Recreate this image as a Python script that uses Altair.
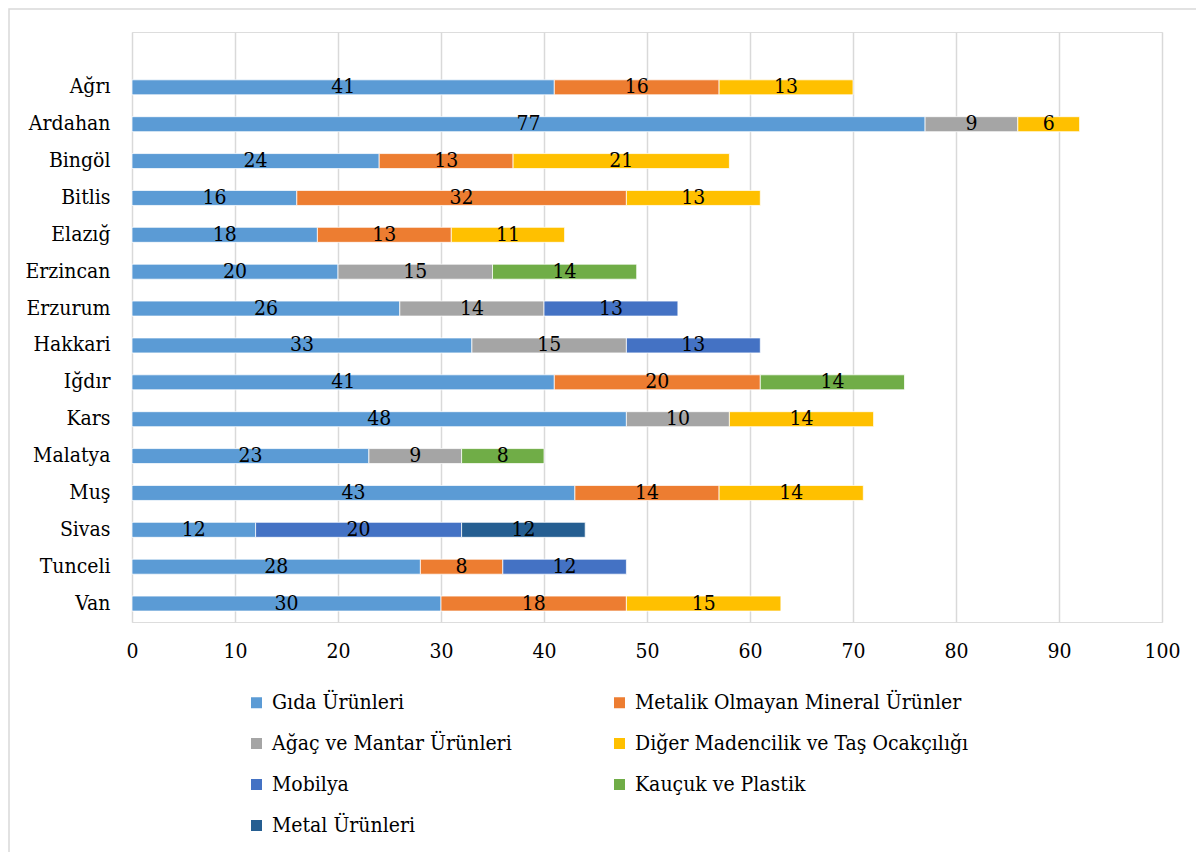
import altair as alt
import pandas as pd

provinces = ["Ağrı", "Ardahan", "Bingöl", "Bitlis", "Elazığ", "Erzincan", "Erzurum",
             "Hakkari", "Iğdır", "Kars", "Malatya", "Muş", "Sivas", "Tunceli", "Van"]

series = ["Gıda Ürünleri", "Metalik Olmayan Mineral Ürünler", "Ağaç ve Mantar Ürünleri",
          "Diğer Madencilik ve Taş Ocakçılığı", "Mobilya", "Kauçuk ve Plastik", "Metal Ürünleri"]

colors = ["#5B9BD5", "#ED7D31", "#A5A5A5", "#FFC000", "#4472C4", "#70AD47", "#255E91"]

gida     = [41, 77, 24, 16, 18, 20, 26, 33, 41, 48, 23, 43, 12, 28, 30]
metalik  = [16, 0, 13, 32, 13, 0, 0, 0, 20, 0, 0, 14, 0, 8, 18]
agac     = [0, 9, 0, 0, 0, 15, 14, 15, 0, 10, 9, 0, 0, 0, 0]
diger    = [13, 6, 21, 13, 11, 0, 0, 0, 0, 14, 0, 14, 0, 0, 15]
mobilya  = [0, 0, 0, 0, 0, 0, 13, 13, 0, 0, 0, 0, 20, 12, 0]
kaucuk   = [0, 0, 0, 0, 0, 14, 0, 0, 14, 0, 8, 0, 0, 0, 0]
metal    = [0, 0, 0, 0, 0, 0, 0, 0, 0, 0, 0, 0, 12, 0, 0]

x_ticks = [0, 10, 20, 30, 40, 50, 60, 70, 80, 90, 100]

all_vals = [gida, metalik, agac, diger, mobilya, kaucuk, metal]
rows = []
for si, (name, vals) in enumerate(zip(series, all_vals)):
    for p, v in zip(provinces, vals):
        if v:
            rows.append({"il": p, "seri": name, "deger": v, "sira": si})
df = pd.DataFrame(rows)

FONT = "DejaVu Serif Condensed"
FS = 21
y_domain = [" "] + provinces

base = alt.Chart(df).transform_stack(
    stack="deger", groupby=["il"], as_=["x0", "x1"], sort=[alt.SortField("sira")]
).transform_calculate(mid="(datum.x0 + datum.x1) / 2")

yenc = alt.Y("il:N", scale=alt.Scale(domain=y_domain, paddingInner=0, paddingOuter=0),
             axis=alt.Axis(title=None, domain=False, ticks=False, labelPadding=22,
                           labelFontSize=FS, labelFont=FONT, labelColor="#000000", grid=False))

bars = base.mark_bar(size=15, stroke="#FFFFFF", strokeWidth=0.75).encode(
    x=alt.X("x0:Q", scale=alt.Scale(domain=[0, 100], nice=False),
            axis=alt.Axis(title=None, values=x_ticks, domain=False, ticks=False,
                          labelPadding=18, labelFontSize=FS, labelFont=FONT,
                          labelFlush=False,
                          labelColor="#000000", grid=True, gridColor="#D9D9D9",
                          gridWidth=1.5)),
    x2="x1:Q",
    y=yenc,
    color=alt.Color("seri:N", scale=alt.Scale(domain=series, range=colors),
                    legend=alt.Legend(title=None, orient="none", legendX=114, legendY=660,
                                      direction="horizontal",
                                      columns=2, columnPadding=97, rowPadding=19,
                                      symbolType="square", symbolSize=121,
                                      symbolStrokeWidth=0, labelFontSize=FS,
                                      labelFont=FONT, labelColor="#000000",
                                      labelOffset=5, padding=0, labelLimit=500)),
)

labels = base.mark_text(fontSize=FS, font=FONT, color="#000000", baseline="middle").encode(
    x=alt.X("mid:Q"),
    y=alt.Y("il:N"),
    text=alt.Text("deger:Q"),
)

frame = alt.Chart(pd.DataFrame({"a": [0]})).mark_rect(
    fill=None, stroke="#D9D9D9", strokeWidth=1.5
).encode(x=alt.value(-123), x2=alt.value(1070), y=alt.value(-23), y2=alt.value(900))

chart = alt.layer(frame, bars, labels).properties(
    width=1030, height=590,
    autosize=alt.AutoSizeParams(type="none"),
    padding={"left": 124, "top": 24, "right": 34, "bottom": 230},
).configure_view(stroke=None).configure(background="#FFFFFF")

chart.save("out.html", embed_options={"renderer": "svg", "actions": False})
